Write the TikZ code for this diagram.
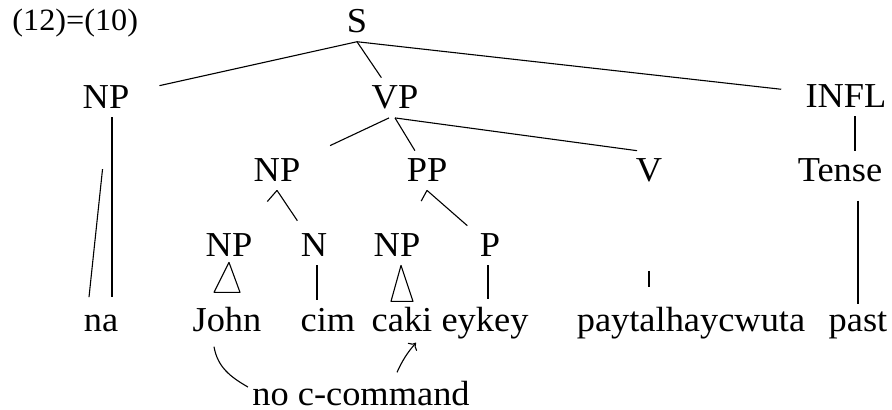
\documentclass[tikz,border=0pt]{standalone}
\usepackage{fontspec}
\setmainfont{Liberation Serif}[FakeStretch=1.04]
\usetikzlibrary{arrows.meta}
\begin{document}
\begin{tikzpicture}[x=0.5pt, y=-0.5pt,
  cat/.style={font=\fontsize{17.5}{21}\selectfont, anchor=base, inner xsep=10pt, inner ysep=4pt},
  branch/.style={line width=0.55pt},
  roof/.style={line width=0.55pt, line join=round},
  note/.style={line width=0.55pt}]
\useasboundingbox (0,0) rectangle (892,410);

% example number
\node[font=\fontsize{15.5}{19}\selectfont, anchor=base west, inner sep=0pt] (num) at (12,31) {(12)=(10)};

% categories
\node[cat] (S)     at (357,33)  {S};
\node[cat] (NPa)   at (106,109) {NP};
\node[cat] (VP)    at (395,109) {VP};
\node[cat] (INFL)  at (846,108) {INFL};
\node[cat] (NPm)   at (277,182) {NP};
\node[cat] (PP)    at (427,182) {PP};
\node[cat] (V)     at (649,182) {V};
\node[cat] (Tense) at (840,182) {Tense};
\node[cat] (NPj)   at (229,257) {NP};
\node[cat] (N)     at (314,257) {N};
\node[cat] (NPc)   at (397,257) {NP};
\node[cat] (P)     at (490,257) {P};

% terminal string
\node[cat] (na)    at (101,332) {na};
\node[cat] (John)  at (227,332) {John};
\node[cat] (cim)   at (328,332) {cim};
\node[cat] (caki)  at (402,332) {caki};
\node[cat] (eykey) at (485,332) {eykey};
\node[cat] (payt)  at (691,332) {paytalhaycwuta};
\node[cat] (past)  at (858,332) {past};

\node[cat] (nocc)  at (361,405) {no c-command};

% branches
\draw[branch, shorten >=5pt] (S.south) -- (NPa);
\draw[branch] (S.south) -- (VP);
\draw[branch, shorten >=2pt] (S.south) -- (INFL);
\draw[branch, shorten >=6pt] ([xshift=-3pt]VP.south) -- (NPm);
\draw[branch] (VP.south) -- (PP);
\draw[branch] (VP.south) -- ([xshift=-6pt]V.north);
\draw[branch] ([xshift=4.5pt]INFL.south) -- ([xshift=4.5pt]INFL.south |- Tense.north);

\draw[branch] ([xshift=3pt]NPa.south) -- ([xshift=5.5pt,yshift=5pt]na.north);
\draw[branch, shorten <=26pt] ([xshift=1pt]NPa.south) -- ([xshift=-6pt,yshift=5pt]na.north);

\draw[branch, shorten >=16pt] (NPm.south) -- (NPj);
\draw[branch, shorten >=3pt] (NPm.south) -- (N);
\draw[branch, shorten >=14pt] (PP.south) -- (NPc);
\draw[branch] (PP.south) -- (P);

\draw[branch, shorten <=40pt, shorten >=6pt] (V.south) -- (V.south |- payt.north);
\draw[branch, shorten <=5pt] (past.north |- Tense.south) -- (past.north);
\draw[branch] ([xshift=1.5pt]N.south) -- ([xshift=1.5pt]N.south |- cim.north);
\draw[branch] ([xshift=-1pt]P.south) -- ([xshift=-1pt]P.south |- eykey.north);

% roofs
\draw[roof] ([yshift=1.5pt]NPj.south) -- ([xshift=-6.5pt,yshift=3.5pt]John.north)
  -- ([xshift=6.5pt,yshift=3.5pt]John.north) -- cycle;
\draw[roof] ([xshift=2pt]NPc.south) -- ([xshift=-5.5pt,yshift=-1pt]caki.north)
  -- ([xshift=5.5pt,yshift=-1pt]caki.north) -- cycle;

% annotation
\draw[note] ([xshift=-6.5pt,yshift=-3pt]John.south) to[out=-80,in=150] ([xshift=8pt,yshift=3pt]nocc.west);
\draw[note, -{To[length=3pt,width=6pt]}] ([xshift=18pt]nocc.north) to[bend left=8] ([xshift=7pt,yshift=-1pt]caki.south);
\end{tikzpicture}
\end{document}
